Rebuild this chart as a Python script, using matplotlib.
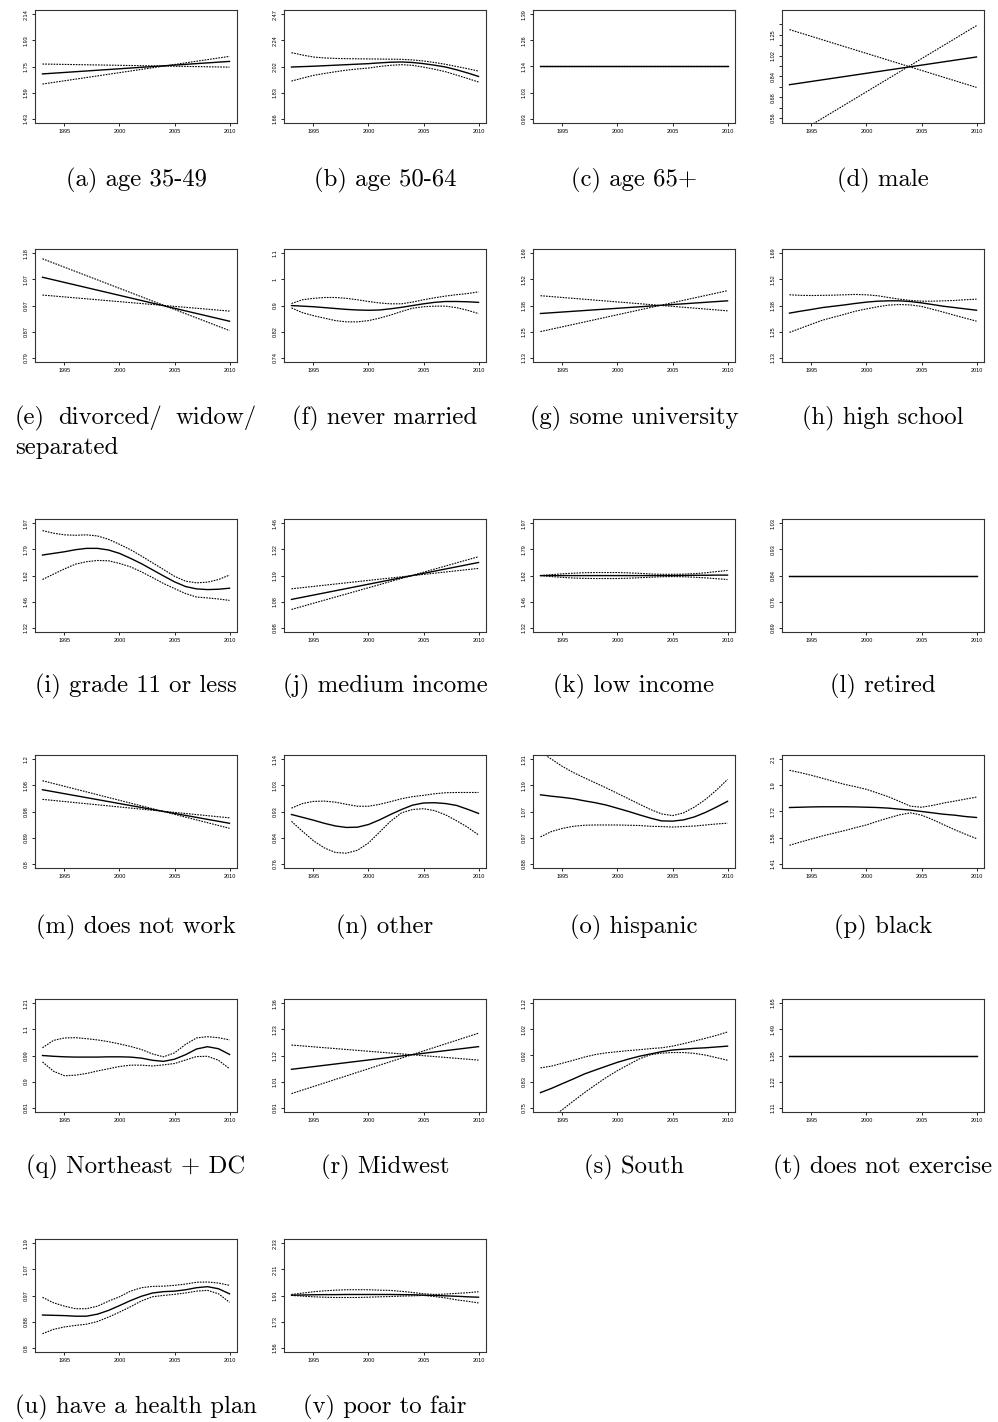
import numpy as np
import matplotlib
matplotlib.use("Agg")
import matplotlib.pyplot as plt

YEARS = list(range(1993, 2011))
ENDS = [1993, 2010]
XTICKS = [1995, 2000, 2005, 2010]

# (a) age 35-49
a_fit = [1.700, 1.784]; a_up = [1.766, 1.745]; a_dn = [1.635, 1.819]
a_range = (1.43, 2.14); a_labels = ["1.43", "1.59", "1.75", "1.93", "2.14"]
# (b) age 50-64
b_fit = [2.021, 2.024, 2.027, 2.031, 2.035, 2.039, 2.043, 2.047, 2.053, 2.058, 2.060, 2.056, 2.047, 2.035, 2.021, 2.000, 1.976, 1.950]
b_up = [2.134, 2.115, 2.099, 2.092, 2.088, 2.086, 2.085, 2.084, 2.083, 2.082, 2.081, 2.076, 2.068, 2.056, 2.042, 2.025, 2.008, 1.990]
b_dn = [1.916, 1.937, 1.958, 1.972, 1.985, 1.997, 2.006, 2.013, 2.025, 2.034, 2.039, 2.034, 2.020, 2.004, 1.985, 1.960, 1.935, 1.909]
b_range = (1.66, 2.47); b_labels = ["1.66", "1.83", "2.02", "2.24", "2.47"]
# (c) age 65+
c_fit = [1.137, 1.137]; c_up = [1.137, 1.137]; c_dn = [1.137, 1.137]
c_range = (0.93, 1.39); c_labels = ["0.93", "1.03", "1.14", "1.26", "1.39"]
# (d) male
d_fit = [0.772, 1.008]; d_up = [1.312, 0.752]; d_dn = [0.462, 1.363]
d_range = (0.56, 1.38); d_labels = ["0.56", "", "0.68", "", "0.84", "", "1.02", "", "1.25", ""]
d_lim = (0.534, 1.584)
# (e) divorced/ widow/ separated
e_fit = [1.076, 0.909]; e_up = [1.155, 0.877]; e_dn = [1.005, 0.945]
e_range = (0.79, 1.18); e_labels = ["0.79", "0.87", "0.97", "1.07", "1.18"]
# (f) never married
f_fit = [0.902, 0.900, 0.898, 0.895, 0.892, 0.889, 0.887, 0.886, 0.887, 0.891, 0.896, 0.902, 0.908, 0.913, 0.916, 0.916, 0.915, 0.913]
f_up = [0.909, 0.922, 0.927, 0.930, 0.930, 0.927, 0.922, 0.916, 0.911, 0.908, 0.908, 0.914, 0.922, 0.929, 0.935, 0.940, 0.944, 0.950]
f_dn = [0.894, 0.878, 0.868, 0.860, 0.852, 0.848, 0.848, 0.852, 0.860, 0.870, 0.882, 0.893, 0.898, 0.900, 0.900, 0.895, 0.886, 0.875]
f_range = (0.74, 1.1); f_labels = ["0.74", "0.82", "0.9", "1", "1.1"]
# (g) some university
g_fit = [1.340, 1.407]; g_up = [1.435, 1.354]; g_dn = [1.250, 1.463]
g_range = (1.13, 1.69); g_labels = ["1.13", "1.25", "1.38", "1.52", "1.69"]
# (h) high school
h_fit = [1.342, 1.352, 1.361, 1.371, 1.378, 1.385, 1.393, 1.400, 1.405, 1.407, 1.407, 1.403, 1.396, 1.387, 1.378, 1.371, 1.364, 1.357]
h_up = [1.440, 1.437, 1.436, 1.437, 1.438, 1.440, 1.442, 1.440, 1.435, 1.425, 1.416, 1.409, 1.405, 1.405, 1.407, 1.409, 1.413, 1.416]
h_dn = [1.246, 1.266, 1.286, 1.306, 1.321, 1.336, 1.352, 1.364, 1.375, 1.384, 1.387, 1.385, 1.377, 1.362, 1.347, 1.331, 1.316, 1.301]
h_range = (1.13, 1.69); h_labels = ["1.13", "1.25", "1.38", "1.52", "1.69"]
# (i) grade 11 or less
i_fit = [1.744, 1.755, 1.766, 1.780, 1.789, 1.789, 1.778, 1.755, 1.722, 1.687, 1.648, 1.610, 1.574, 1.546, 1.532, 1.528, 1.530, 1.536]
i_up = [1.915, 1.896, 1.884, 1.881, 1.884, 1.876, 1.852, 1.817, 1.780, 1.737, 1.693, 1.650, 1.608, 1.578, 1.568, 1.572, 1.588, 1.615]
i_dn = [1.588, 1.621, 1.654, 1.684, 1.700, 1.708, 1.706, 1.689, 1.667, 1.635, 1.600, 1.564, 1.534, 1.505, 1.485, 1.480, 1.474, 1.466]
i_range = (1.32, 1.97); i_labels = ["1.32", "1.46", "1.62", "1.79", "1.97"]
# (j) medium income
j_fit = [1.092, 1.257]; j_up = [1.137, 1.229]; j_dn = [1.051, 1.285]
j_range = (0.98, 1.46); j_labels = ["0.98", "1.08", "1.19", "1.32", "1.46"]
# (k) low income
k_fit = [1.612, 1.612, 1.612, 1.612, 1.612, 1.612, 1.612, 1.612, 1.612, 1.612, 1.612, 1.612, 1.612, 1.613, 1.614, 1.614, 1.615, 1.615]
k_up = [1.612, 1.618, 1.623, 1.627, 1.630, 1.631, 1.631, 1.631, 1.629, 1.626, 1.622, 1.620, 1.620, 1.621, 1.624, 1.629, 1.637, 1.644]
k_dn = [1.612, 1.606, 1.601, 1.597, 1.595, 1.594, 1.594, 1.594, 1.596, 1.599, 1.602, 1.605, 1.606, 1.605, 1.602, 1.598, 1.593, 1.588]
k_range = (1.32, 1.97); k_labels = ["1.32", "1.46", "1.62", "1.79", "1.97"]
# (l) retired
l_fit = [0.843, 0.843]; l_up = [0.843, 0.843]; l_dn = [0.843, 0.843]
l_range = (0.69, 1.03); l_labels = ["0.69", "0.76", "0.84", "0.93", "1.03"]
# (m) does not work
m_fit = [1.066, 0.936]; m_up = [1.104, 0.918]; m_dn = [1.027, 0.956]
m_range = (0.8, 1.2); m_labels = ["0.8", "0.89", "0.98", "1.08", "1.2"]
# (n) other
n_fit = [0.920, 0.910, 0.900, 0.889, 0.880, 0.875, 0.876, 0.885, 0.901, 0.920, 0.938, 0.954, 0.962, 0.963, 0.960, 0.953, 0.939, 0.924]
n_up = [0.943, 0.960, 0.968, 0.969, 0.965, 0.957, 0.950, 0.950, 0.957, 0.967, 0.978, 0.986, 0.991, 0.997, 1.001, 1.002, 1.002, 1.002]
n_dn = [0.896, 0.862, 0.831, 0.808, 0.794, 0.792, 0.801, 0.824, 0.859, 0.896, 0.926, 0.938, 0.941, 0.934, 0.919, 0.898, 0.876, 0.850]
n_range = (0.76, 1.14); n_labels = ["0.76", "0.84", "0.93", "1.03", "1.14"]
# (o) hispanic
o_fit = [1.144, 1.138, 1.133, 1.127, 1.118, 1.110, 1.100, 1.087, 1.074, 1.060, 1.047, 1.036, 1.035, 1.040, 1.052, 1.070, 1.092, 1.116]
o_up = [1.347, 1.310, 1.274, 1.245, 1.220, 1.197, 1.174, 1.150, 1.127, 1.104, 1.082, 1.064, 1.057, 1.068, 1.092, 1.124, 1.165, 1.213]
o_dn = [0.975, 0.995, 1.007, 1.015, 1.019, 1.020, 1.020, 1.020, 1.019, 1.018, 1.015, 1.014, 1.012, 1.014, 1.016, 1.020, 1.024, 1.027]
o_range = (0.88, 1.31); o_labels = ["0.88", "0.97", "1.07", "1.19", "1.31"]
# (p) black
p_fit = [1.747, 1.749, 1.751, 1.752, 1.752, 1.752, 1.751, 1.749, 1.747, 1.743, 1.736, 1.730, 1.721, 1.712, 1.703, 1.697, 1.688, 1.682]
p_up = [2.013, 1.995, 1.975, 1.953, 1.930, 1.908, 1.891, 1.872, 1.846, 1.820, 1.788, 1.756, 1.749, 1.761, 1.777, 1.790, 1.804, 1.818]
p_dn = [1.513, 1.532, 1.550, 1.568, 1.584, 1.600, 1.618, 1.635, 1.658, 1.679, 1.699, 1.712, 1.697, 1.669, 1.637, 1.606, 1.578, 1.552]
p_range = (1.41, 2.1); p_labels = ["1.41", "1.56", "1.72", "1.9", "2.1"]
# (q) Northeast + DC
q_fit = [0.990, 0.987, 0.985, 0.984, 0.984, 0.984, 0.985, 0.985, 0.984, 0.980, 0.972, 0.968, 0.976, 0.993, 1.015, 1.024, 1.016, 0.994]
q_up = [1.020, 1.049, 1.059, 1.060, 1.056, 1.051, 1.044, 1.035, 1.025, 1.013, 0.996, 0.985, 1.000, 1.033, 1.059, 1.064, 1.060, 1.051]
q_dn = [0.966, 0.932, 0.916, 0.918, 0.924, 0.933, 0.941, 0.949, 0.954, 0.954, 0.951, 0.955, 0.960, 0.973, 0.986, 0.987, 0.972, 0.941]
q_range = (0.81, 1.21); q_labels = ["0.81", "0.9", "0.99", "1.1", "1.21"]
# (r) Midwest
r_fit = [1.055, 1.151]; r_up = [1.158, 1.093]; r_dn = [0.961, 1.212]
r_range = (0.91, 1.36); r_labels = ["0.91", "1.01", "1.12", "1.23", "1.36"]
# (s) South
s_fit = [0.795, 0.808, 0.823, 0.838, 0.854, 0.867, 0.880, 0.893, 0.904, 0.914, 0.922, 0.930, 0.936, 0.939, 0.942, 0.944, 0.947, 0.950]
s_up = [0.874, 0.880, 0.890, 0.900, 0.911, 0.920, 0.926, 0.930, 0.934, 0.937, 0.941, 0.944, 0.950, 0.959, 0.969, 0.979, 0.990, 1.003]
s_dn = [0.712, 0.723, 0.745, 0.770, 0.795, 0.819, 0.843, 0.865, 0.885, 0.905, 0.919, 0.925, 0.927, 0.927, 0.924, 0.918, 0.909, 0.900]
s_range = (0.75, 1.12); s_labels = ["0.75", "0.83", "0.92", "1.02", "1.12"]
# (t) does not exercise
t_fit = [1.353, 1.353]; t_up = [1.353, 1.353]; t_dn = [1.353, 1.353]
t_range = (1.11, 1.65); t_labels = ["1.11", "1.22", "1.35", "1.49", "1.65"]
# (u) have a health plan
u_fit = [0.906, 0.905, 0.904, 0.902, 0.902, 0.909, 0.922, 0.939, 0.957, 0.973, 0.985, 0.990, 0.992, 0.997, 1.005, 1.009, 1.001, 0.982]
u_up = [0.969, 0.949, 0.937, 0.928, 0.928, 0.937, 0.955, 0.971, 0.992, 1.005, 1.010, 1.011, 1.014, 1.019, 1.026, 1.027, 1.023, 1.014]
u_dn = [0.844, 0.858, 0.866, 0.871, 0.875, 0.884, 0.899, 0.916, 0.935, 0.956, 0.971, 0.976, 0.980, 0.985, 0.992, 0.995, 0.982, 0.951]
u_range = (0.8, 1.19); u_labels = ["0.8", "0.88", "0.97", "1.07", "1.19"]
# (v) poor to fair
v_fit = [1.909, 1.910, 1.912, 1.913, 1.913, 1.914, 1.914, 1.914, 1.914, 1.914, 1.913, 1.912, 1.909, 1.907, 1.904, 1.901, 1.897, 1.894]
v_up = [1.914, 1.924, 1.934, 1.941, 1.946, 1.949, 1.949, 1.949, 1.946, 1.944, 1.937, 1.929, 1.919, 1.914, 1.917, 1.922, 1.927, 1.934]
v_dn = [1.907, 1.902, 1.897, 1.894, 1.892, 1.892, 1.892, 1.894, 1.897, 1.899, 1.902, 1.904, 1.907, 1.899, 1.889, 1.875, 1.865, 1.853]
v_range = (1.56, 2.33); v_labels = ["1.56", "1.73", "1.91", "2.11", "2.33"]

captions = ["(a) age 35-49", "(b) age 50-64", "(c) age 65+", "(d) male",
            "(e) divorced/ widow/ separated", "(f) never married", "(g) some university", "(h) high school",
            "(i) grade 11 or less", "(j) medium income", "(k) low income", "(l) retired",
            "(m) does not work", "(n) other", "(o) hispanic", "(p) black",
            "(q) Northeast + DC", "(r) Midwest", "(s) South", "(t) does not exercise",
            "(u) have a health plan", "(v) poor to fair"]

panels = [
    (ENDS, a_fit, a_up, a_dn, a_range, a_labels, None),
    (YEARS, b_fit, b_up, b_dn, b_range, b_labels, None),
    (ENDS, c_fit, c_up, c_dn, c_range, c_labels, None),
    (ENDS, d_fit, d_up, d_dn, d_range, d_labels, d_lim),
    (ENDS, e_fit, e_up, e_dn, e_range, e_labels, None),
    (YEARS, f_fit, f_up, f_dn, f_range, f_labels, None),
    (ENDS, g_fit, g_up, g_dn, g_range, g_labels, None),
    (YEARS, h_fit, h_up, h_dn, h_range, h_labels, None),
    (YEARS, i_fit, i_up, i_dn, i_range, i_labels, None),
    (ENDS, j_fit, j_up, j_dn, j_range, j_labels, None),
    (YEARS, k_fit, k_up, k_dn, k_range, k_labels, None),
    (ENDS, l_fit, l_up, l_dn, l_range, l_labels, None),
    (ENDS, m_fit, m_up, m_dn, m_range, m_labels, None),
    (YEARS, n_fit, n_up, n_dn, n_range, n_labels, None),
    (YEARS, o_fit, o_up, o_dn, o_range, o_labels, None),
    (YEARS, p_fit, p_up, p_dn, p_range, p_labels, None),
    (YEARS, q_fit, q_up, q_dn, q_range, q_labels, None),
    (ENDS, r_fit, r_up, r_dn, r_range, r_labels, None),
    (YEARS, s_fit, s_up, s_dn, s_range, s_labels, None),
    (ENDS, t_fit, t_up, t_dn, t_range, t_labels, None),
    (YEARS, u_fit, u_up, u_dn, u_range, u_labels, None),
    (YEARS, v_fit, v_up, v_dn, v_range, v_labels, None),
]

W, H = 998, 1422
fig = plt.figure(figsize=(W / 100, H / 100), dpi=100)
fig.patch.set_facecolor("white")
renderer = fig.canvas.get_renderer()

col_left = [35, 284, 533, 782]
row_top = [10, 249, 519, 755, 999, 1239]
cap_y = [180, 418, 686, 927, 1167, 1407]
AW, AH = 202, 113

tick_font = dict(family="Liberation Sans", size=4.0)
cap_font = "cmr10"
CAP_SIZE = 17.8

for idx, (xs, fit, up, dn, rng, labels, lim) in enumerate(panels):
    r, c = divmod(idx, 4)
    left = col_left[c]
    top = row_top[r]
    ax = fig.add_axes([left / W, 1 - (top + AH) / H, AW / W, AH / H])
    ax.set_yscale("log")
    ax.plot(xs, up, color="black", lw=0.8, ls=(0, (1.5, 1.0)))
    ax.plot(xs, dn, color="black", lw=0.8, ls=(0, (1.5, 1.0)))
    ax.plot(xs, fit, color="black", lw=1.0, ls="-")
    lo, hi = rng
    ticks = np.geomspace(lo, hi, len(labels))
    if lim is None:
        L = np.log(hi) - np.log(lo)
        lim = (np.exp(np.log(lo) - 0.04 * L), np.exp(np.log(hi) + 0.04 * L))
    ax.set_ylim(*lim)
    ax.set_xlim(1993 - 0.04 * 17, 2010 + 0.04 * 17)
    ax.minorticks_off()
    ax.set_yticks(ticks)
    ax.set_yticklabels(labels, fontdict=tick_font)
    ax.set_xticks(XTICKS)
    ax.set_xticklabels([str(x) for x in XTICKS], fontdict=tick_font)
    ax.tick_params(direction="out", length=2.0, width=0.6, pad=2.3, colors="black")
    ax.tick_params(axis="y", labelrotation=90)
    for lab in ax.get_yticklabels():
        lab.set_va("center")
    for sp in ax.spines.values():
        sp.set_linewidth(0.8)
        sp.set_color("#333333")

    # caption
    cx = (left + AW / 2) / W
    if idx == 4:
        y1 = 1 - cap_y[r] / H
        t_e = fig.text(15 / W, y1, "(e)", ha="left", va="center", family=cap_font, size=CAP_SIZE)
        t_w = fig.text(257 / W, y1, "widow/", ha="right", va="center", family=cap_font, size=CAP_SIZE)
        t_d = fig.text(0, y1, "divorced/", ha="center", va="center", family=cap_font, size=CAP_SIZE)
        be = t_e.get_window_extent(renderer)
        bw = t_w.get_window_extent(renderer)
        t_d.set_x(((be.x1 + bw.x0) / 2) / W)
        fig.text(15 / W, 1 - 448 / H, "separated", ha="left", va="center", family=cap_font, size=CAP_SIZE)
    else:
        fig.text(cx, 1 - cap_y[r] / H, captions[idx], ha="center", va="center",
                 family=cap_font, size=CAP_SIZE)

fig.savefig("out.png", dpi=100, facecolor="white")
